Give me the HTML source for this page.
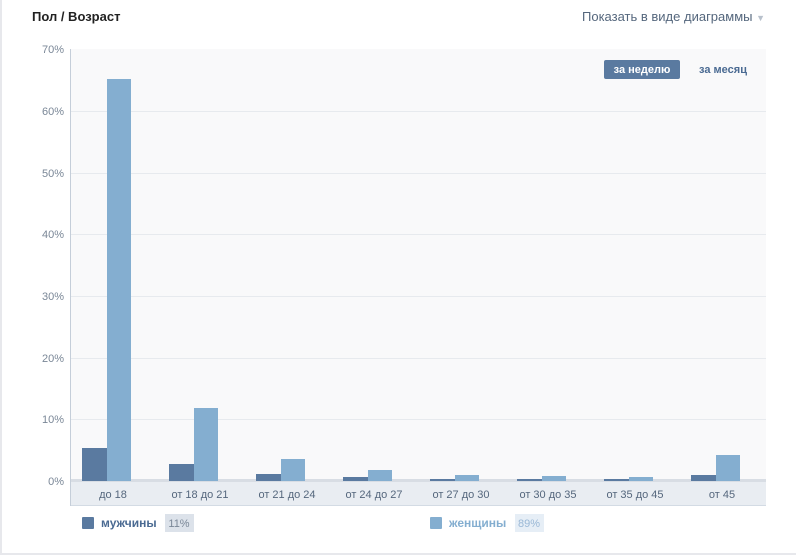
<!DOCTYPE html>
<html><head><meta charset="utf-8"><style>
body{margin:0;width:796px;height:555px;background:#fff;font-family:"Liberation Sans","DejaVu Sans",sans-serif;position:relative;overflow:hidden}
.a{position:absolute}
</style></head><body>
<div class="a" style="left:0;top:0;width:2px;height:555px;background:#e7e8ec"></div>
<div class="a" style="left:0;top:553px;width:796px;height:2px;background:#e7e8ec"></div>
<div class="a" style="left:32px;top:9px;font-size:13px;font-weight:bold;color:#222">Пол / Возраст</div>
<div class="a" style="left:582px;top:9px;font-size:13px;color:#55677d">Показать в виде диаграммы <span style="color:#b8c1cc;font-size:9px">▼</span></div>
<svg class="a" style="left:0;top:0" width="796" height="555">
<rect x="70" y="49" width="696" height="432" fill="#f9f9fa"/>
<g stroke="#e7eaee" stroke-width="1">
<line x1="70" x2="766" y1="111.5" y2="111.5"/><line x1="70" x2="766" y1="173.5" y2="173.5"/><line x1="70" x2="766" y1="234.5" y2="234.5"/><line x1="70" x2="766" y1="296.5" y2="296.5"/><line x1="70" x2="766" y1="358.5" y2="358.5"/><line x1="70" x2="766" y1="419.5" y2="419.5"/>
</g>
<rect x="70" y="481" width="696" height="24" fill="#e9edf2"/>
<rect x="70" y="479" width="696" height="3" fill="#d8dde4"/>
<rect x="70" y="505" width="696" height="1" fill="#d3dbe4"/>
<line x1="70.5" x2="70.5" y1="49" y2="506" stroke="#c5ced9"/>
<g font-size="11" fill="#7a8797" text-anchor="end">
<text x="64" y="53">70%</text><text x="64" y="115">60%</text><text x="64" y="177">50%</text><text x="64" y="238">40%</text><text x="64" y="300">30%</text><text x="64" y="362">20%</text><text x="64" y="423">10%</text><text x="64" y="485">0%</text>
</g>
<g fill="#5a7aa0">
<rect x="82" y="448" width="25" height="33"/><rect x="169" y="464" width="25" height="17"/><rect x="256" y="474" width="25" height="7"/><rect x="343" y="477" width="25" height="4"/><rect x="430" y="479" width="25" height="2"/><rect x="517" y="479" width="25" height="2"/><rect x="604" y="479" width="25" height="2"/><rect x="691" y="475" width="25" height="6"/>
</g>
<g fill="#84aed0">
<rect x="107" y="79" width="24" height="402"/><rect x="194" y="408" width="24" height="73"/><rect x="281" y="459" width="24" height="22"/><rect x="368" y="470" width="24" height="11"/><rect x="455" y="475" width="24" height="6"/><rect x="542" y="476" width="24" height="5"/><rect x="629" y="477" width="24" height="4"/><rect x="716" y="455" width="24" height="26"/>
</g>
<g font-size="11" fill="#55677d" text-anchor="middle">
<text x="113" y="498">до 18</text><text x="200" y="498">от 18 до 21</text><text x="287" y="498">от 21 до 24</text><text x="374" y="498">от 24 до 27</text><text x="461" y="498">от 27 до 30</text><text x="548" y="498">от 30 до 35</text><text x="635" y="498">от 35 до 45</text><text x="722" y="498">от 45</text>
</g>
<rect x="604" y="60" width="76" height="19" rx="2" fill="#5a7aa0"/>
<text x="642" y="73" font-size="11" font-weight="bold" fill="#fff" text-anchor="middle">за неделю</text>
<text x="723" y="73" font-size="11" font-weight="bold" fill="#4a6a92" text-anchor="middle">за месяц</text>
<rect x="82" y="517" width="12" height="12" rx="1" fill="#5a7aa0"/>
<text x="101" y="527" font-size="12" font-weight="bold" fill="#4a6a92">мужчины</text>
<rect x="165" y="514" width="29" height="18" fill="#dce2ea"/>
<text x="179" y="527" font-size="11" fill="#7a8797" text-anchor="middle">11%</text>
<rect x="430" y="517" width="12" height="12" rx="1" fill="#84aed0"/>
<text x="449" y="527" font-size="12" font-weight="bold" fill="#84aed0">женщины</text>
<rect x="515" y="514" width="29" height="18" fill="#e6eef6"/>
<text x="529" y="527" font-size="11" fill="#9ab8d6" text-anchor="middle">89%</text>
</svg>
</body></html>
